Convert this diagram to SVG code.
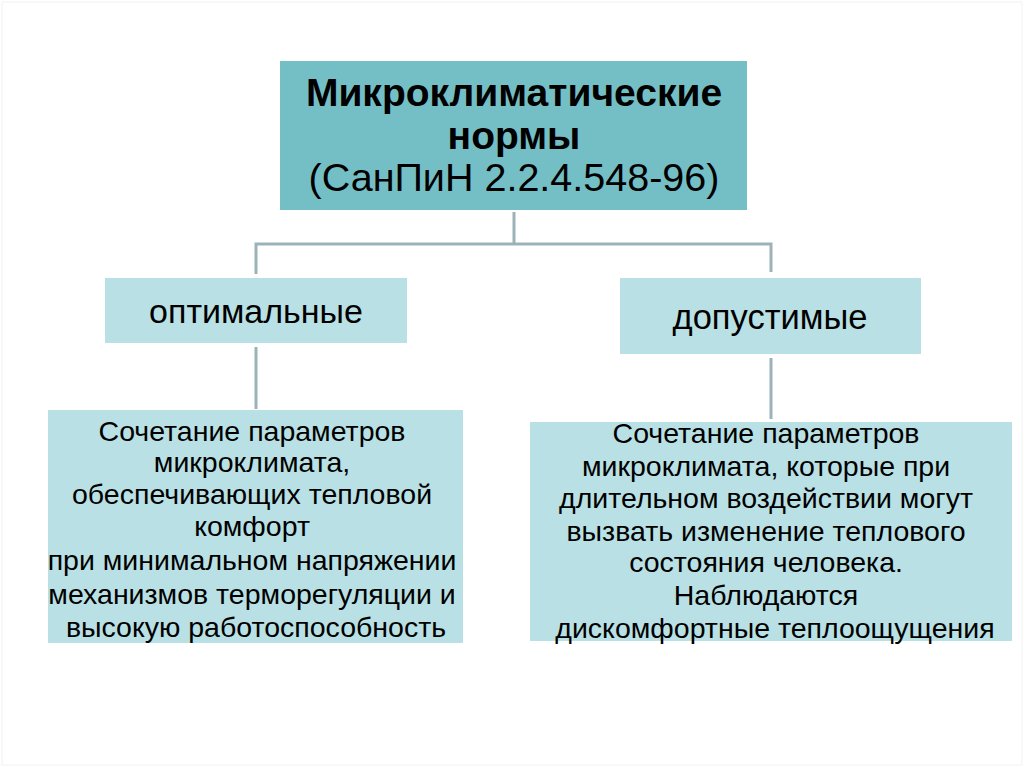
<svg xmlns="http://www.w3.org/2000/svg" width="1024" height="767" viewBox="0 0 1024 767">
<style>
.dark{fill:#74bfc5}
.light{fill:#b9e0e4}
.t{font-family:"Liberation Sans",Arial,sans-serif;fill:#000;text-anchor:middle}
.conn{stroke:#9bb3b8;stroke-width:3;fill:none}
</style>
<rect x="0" y="0" width="1024" height="767" fill="#fff"/>
<rect x="2" y="2" width="1020" height="763" fill="none" stroke="#f2f2f2" stroke-width="1"/>
<g id="connectors">
<path class="conn" d="M514 212V244M256 274V244H771V272"/>
<path class="conn" d="M256 347V409"/>
<path class="conn" d="M771 358V419"/>
</g>
<g id="node-main">
<rect class="dark" x="280" y="61" width="467" height="149"/>
<text class="t" x="514" y="106" font-size="39" font-weight="bold">Микроклиматические</text>
<text class="t" x="514" y="149" font-size="39" font-weight="bold">нормы</text>
<text class="t" x="514" y="191" font-size="39.5">(СанПиН 2.2.4.548-96)</text>
</g>
<g id="node-optimal">
<rect class="light" x="105" y="278" width="302" height="65"/>
<text class="t" x="256" y="323" font-size="34">оптимальные</text>
</g>
<g id="node-allowed">
<rect class="light" x="620" y="278" width="301" height="76"/>
<text class="t" x="770" y="329" font-size="34.5">допустимые</text>
</g>
<g id="node-optimal-desc">
<rect class="light" x="48" y="410" width="415" height="233"/>
<text class="t" font-size="28.5">
<tspan x="256" y="441">Сочетание параметров</tspan>
<tspan x="256" y="472">микроклимата,</tspan>
<tspan x="256" y="504">обеспечивающих тепловой</tspan>
<tspan x="256" y="536">комфорт</tspan>
<tspan x="256" y="570">при минимальном напряжении</tspan>
<tspan x="256" y="604">механизмов терморегуляции и</tspan>
<tspan x="256" y="637">высокую работоспособность</tspan>
</text>
</g>
<g id="node-allowed-desc">
<rect class="light" x="530" y="422" width="482" height="219"/>
<text class="t" font-size="28.5">
<tspan x="770" y="443">Сочетание параметров</tspan>
<tspan x="770" y="476">микроклимата, которые при</tspan>
<tspan x="770" y="508">длительном воздействии могут</tspan>
<tspan x="770" y="541">вызвать изменение теплового</tspan>
<tspan x="770" y="572">состояния человека.</tspan>
<tspan x="770" y="605">Наблюдаются</tspan>
<tspan x="775" y="638">дискомфортные теплоощущения</tspan>
</text>
</g>
</svg>
